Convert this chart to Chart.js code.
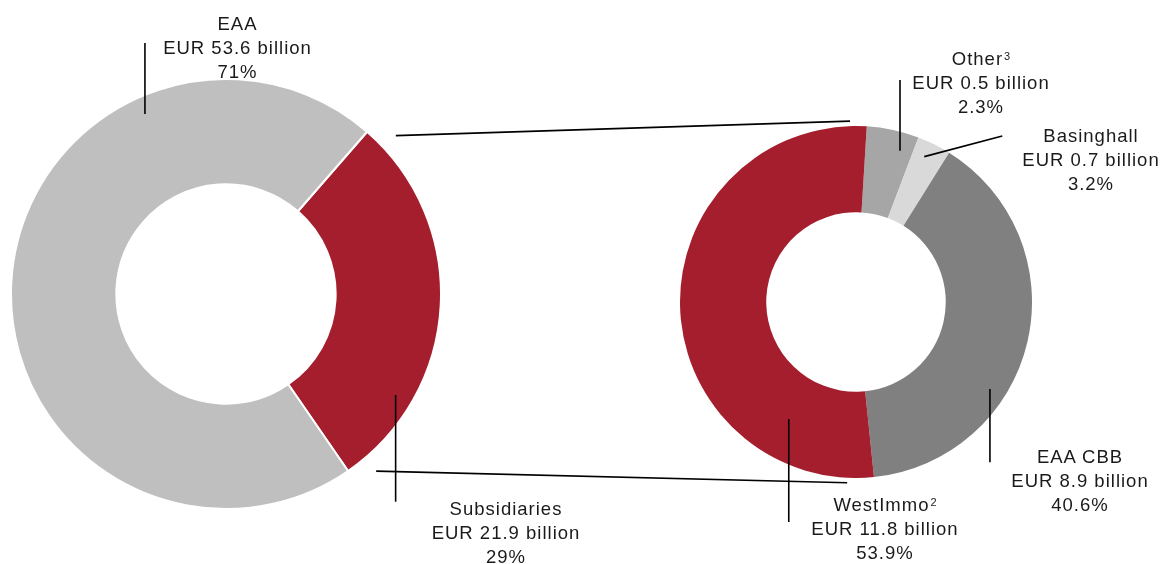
<!DOCTYPE html>
<html><head><meta charset="utf-8">
<script src="https://cdn.jsdelivr.net/npm/chart.js@4.4.0/dist/chart.umd.min.js"></script>
<style>
html,body{margin:0;padding:0;background:#fff;}
#stage{position:relative;width:1162px;height:564px;overflow:hidden;}
#stage canvas{position:absolute;}
.lbl{position:absolute;transform:translateX(-50%);text-align:center;white-space:nowrap;font-family:"Liberation Sans",Arial,sans-serif;font-size:18.5px;line-height:24px;letter-spacing:1px;color:#1a1a1a;}
.lbl sup{font-size:11px;line-height:0;vertical-align:top;position:relative;top:9px;letter-spacing:0;margin-left:1px;}
</style></head>
<body><div id="stage">
<canvas id="left" width="432" height="432" style="left:10px;top:78px"></canvas>
<canvas id="right" width="352" height="352" style="left:680px;top:126px"></canvas>
<canvas id="overlay" width="1162" height="564" style="left:0;top:0"></canvas>
</div>
<script>
// ---- data ----
const leftCategories = ['Subsidiaries', 'EAA'];
const leftAmounts = ['21.9', '53.6'];          // EUR billion
const leftValues = [29, 71];                   // share in %
const leftColors = ['#A51E2D', '#BFBFBF'];

const rightCategories = ['Other', 'Basinghall', 'EAA CBB', 'WestImmo'];
const rightFootnotes = ['3', '', '', '2'];
const rightAmounts = ['0.5', '0.7', '8.9', '11.8']; // EUR billion
const rightPercents = ['2.3', '3.2', '40.6', '53.9'];
const rightDrawnShares = [4.8, 3.1, 39.5, 52.6];   // slice sizes as drawn in the picture
const rightColors = ['#A6A6A6', '#D9D9D9', '#808080', '#A51E2D'];

// ---- layout (label anchors: centre x, top) ----
const leftLabelPos = [[506, 496.5], [237.5, 12]];
const rightLabelPos = [[981, 46.5], [1091, 124], [1080, 445], [885, 493]];

const common = {
  responsive: false, maintainAspectRatio: false, animation: false,
  events: [],
  plugins: { legend: { display: false }, tooltip: { enabled: false } },
  layout: { padding: 0 }
};

const leftChart = new Chart(document.getElementById('left'), {
  type: 'doughnut',
  data: { labels: leftCategories, datasets: [{ data: leftValues, backgroundColor: leftColors, borderColor: '#ffffff', borderWidth: 2 }] },
  options: Object.assign({}, common, { cutout: '51%', rotation: 41 })
});
const rightChart = new Chart(document.getElementById('right'), {
  type: 'doughnut',
  data: { labels: rightCategories, datasets: [{ data: rightDrawnShares, backgroundColor: rightColors, borderWidth: 0 }] },
  options: Object.assign({}, common, { cutout: '51%', rotation: 3.5 })
});

// ---- labels ----
const stage = document.getElementById('stage');
function addLabel(name, sup, amount, pct, pos) {
  const d = document.createElement('div');
  d.className = 'lbl';
  d.style.left = pos[0] + 'px';
  d.style.top = pos[1] + 'px';
  d.innerHTML = name + (sup ? '<sup>' + sup + '</sup>' : '') + '<br>EUR ' + amount + ' billion<br>' + pct + '%';
  stage.appendChild(d);
}
leftCategories.forEach((c, i) => addLabel(c, '', leftAmounts[i], leftValues[i], leftLabelPos[i]));
rightCategories.forEach((c, i) => addLabel(c, rightFootnotes[i], rightAmounts[i], rightPercents[i], rightLabelPos[i]));

// ---- connector & leader lines, derived from chart geometry ----
function geo(chart, el) {
  const arc = chart.getDatasetMeta(0).data[0];
  return { cx: arc.x + el.offsetLeft, cy: arc.y + el.offsetTop, r: arc.outerRadius };
}
const L = geo(leftChart, document.getElementById('left'));
const R = geo(rightChart, document.getElementById('right'));
function polar(g, deg, f) {
  const a = deg * Math.PI / 180;
  return [g.cx + Math.sin(a) * g.r * f, g.cy - Math.cos(a) * g.r * f];
}
function rel(g, fx, fy) { return [g.cx + fx * g.r, g.cy + fy * g.r]; }

const ctx = document.getElementById('overlay').getContext('2d');
ctx.strokeStyle = '#000';
ctx.lineWidth = 1.6;
function seg(p, q) { ctx.beginPath(); ctx.moveTo(p[0], p[1]); ctx.lineTo(q[0], q[1]); ctx.stroke(); }

// connectors between the two doughnuts
seg(polar(L, 47.0, 1.08), polar(R, -1.9, 1.028));
seg(polar(L, 139.7, 1.08), polar(R, 182.8, 1.028));
// leader lines
seg(rel(L, -0.377, -1.167), rel(L, -0.377, -0.837));   // EAA
seg(rel(L, 0.789, 0.470), rel(L, 0.789, 0.966));       // Subsidiaries
seg(rel(R, 0.25, -1.261), rel(R, 0.25, -0.860));       // Other
seg(rel(R, 0.388, -0.826), rel(R, 0.831, -0.943));     // Basinghall
seg(rel(R, 0.761, 0.494), rel(R, 0.761, 0.911));       // EAA CBB
seg(rel(R, -0.382, 0.665), rel(R, -0.382, 1.25));      // WestImmo
</script>
</body></html>
